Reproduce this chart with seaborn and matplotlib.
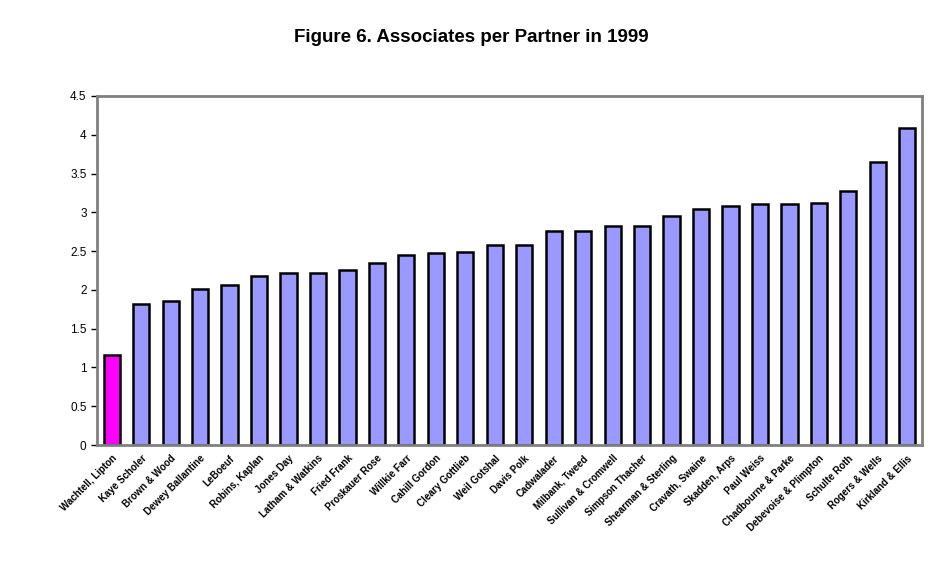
import matplotlib
matplotlib.use("Agg")
import matplotlib.pyplot as plt
import seaborn as sns
import pandas as pd

firms = ["Wachtell, Lipton", "Kaye Scholer", "Brown & Wood", "Dewey Ballantine", "LeBoeuf",
         "Robins, Kaplan", "Jones Day", "Latham & Watkins", "Fried Frank", "Proskauer Rose",
         "Willkie Farr", "Cahill Gordon", "Cleary Gottlieb", "Weil Gotshal", "Davis Polk",
         "Cadwalader", "Milbank, Tweed", "Sullivan & Cromwell", "Simpson Thacher",
         "Shearman & Sterling", "Cravath, Swaine", "Skadden, Arps", "Paul Weiss",
         "Chadbourne & Parke", "Debevoise & Plimpton", "Schulte Roth", "Rogers & Wells",
         "Kirkland & Ellis"]
ratios = [1.16, 1.82, 1.86, 2.01, 2.06, 2.18, 2.22, 2.22, 2.26, 2.35, 2.45, 2.48, 2.49,
          2.58, 2.58, 2.76, 2.76, 2.82, 2.82, 2.95, 3.04, 3.08, 3.11, 3.11, 3.12, 3.27,
          3.65, 4.09]
highlight = "Wachtell, Lipton"

df = pd.DataFrame({"firm": firms, "ratio": ratios})
palette = {f: ("#FF00FF" if f == highlight else "#9999FF") for f in firms}

sns.set_style("white")
plt.rcParams["font.family"] = ["Liberation Sans", "DejaVu Sans"]
plt.rcParams["text.color"] = "black"
plt.rcParams["xtick.color"] = "black"
plt.rcParams["ytick.color"] = "black"

fig = plt.figure(figsize=(9.42, 5.87), dpi=100)
ax = fig.add_axes([97/942, 1-445/587, (922-97)/942, (445-96)/587])

sns.barplot(data=df, x="firm", y="ratio", hue="firm", palette=palette, legend=False,
            width=0.55, edgecolor="black", linewidth=1.8, saturation=1, ax=ax)

ax.set_ylim(0, 4.5)
ax.set_xlim(-0.5, len(firms) - 0.5)
ax.set_yticks([0, 0.5, 1, 1.5, 2, 2.5, 3, 3.5, 4, 4.5])
ax.set_yticklabels(["0", "0.5", "1", "1.5", "2", "2.5", "3", "3.5", "4", "4.5"], fontsize=8.5)
ax.set_xlabel("")
ax.set_ylabel("")
ax.set_xticks(range(len(firms)))
ax.set_xticklabels(firms, rotation=45, ha="right", rotation_mode="anchor", fontsize=7,
                   fontweight="bold")
ax.tick_params(axis="x", length=0, pad=6)
ax.set_xticks([i - 0.5 for i in range(len(firms) + 1)], minor=True)
ax.tick_params(axis="x", which="minor", length=4, color="black", width=1, direction="out")
ax.tick_params(axis="y", length=4, color="black", width=1, direction="out", left=True)
for s in ax.spines.values():
    s.set_color("#808080")
    s.set_linewidth(2)
    s.set_visible(True)

fig.text(0.5, 1 - 38/587, "Figure 6. Associates per Partner in 1999", ha="center", va="center",
         fontsize=13.5, fontweight="bold")

fig.savefig("out.png", dpi=100)
